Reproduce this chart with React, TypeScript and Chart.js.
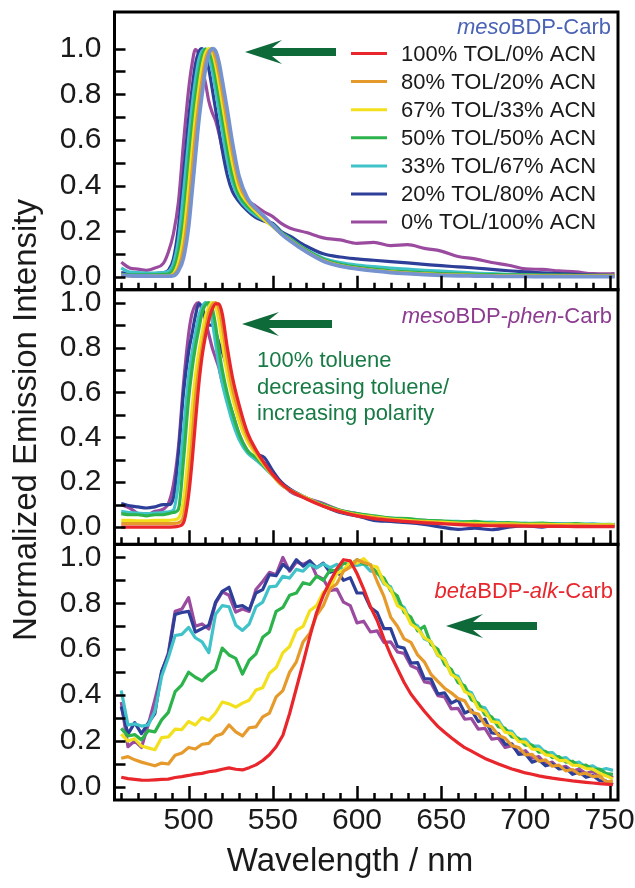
import React, { useEffect, useRef } from 'react';
import { Chart, registerables } from 'chart.js';

Chart.register(...registerables);

// ---------- labels / colours ----------
const SERIES_LABELS = [
  '100% TOL/0% ACN',
  '80% TOL/20% ACN',
  '67% TOL/33% ACN',
  '50% TOL/50% ACN',
  '33% TOL/67% ACN',
  '20% TOL/80% ACN',
  '0% TOL/100% ACN',
];
const SERIES_COLORS = ['#e8262b', '#e59a2b', '#f2e01c', '#2db34b', '#40c3c8', '#2d3f98', '#9b4b9f'];
const CARB_TOL100_COLOR = '#7593cf';

// ---------- ticks ----------
const Y_TICK_LABELS = [0, 0.2, 0.4, 0.6, 0.8, 1.0];
const Y_TICK_MARKS = [0, 0.1, 0.2, 0.3, 0.4, 0.5, 0.6, 0.7, 0.8, 0.9, 1.0];
const X_TICK_LABELS = [500, 550, 600, 650, 700, 750];
const X_TICK_MARKS = [460, 470, 480, 490, 500, 510, 520, 530, 540, 550, 560, 570, 580, 590, 600, 610, 620, 630, 640, 650, 660, 670, 680, 690, 700, 710, 720, 730, 740, 750];

// ---------- wavelengths ----------
const WL_MESO = [460, 465, 470, 475, 480, 485, 488, 491, 494, 497, 500, 502, 504, 506, 508, 510, 512, 514, 516, 518, 520, 523, 526, 530, 535, 540, 545, 550, 555, 560, 570, 580, 590, 600, 610, 620, 630, 640, 650, 660, 670, 680, 690, 700, 710, 720, 730, 740, 750, 753];
const WL_ALK = [460, 464, 468, 472, 476, 480, 484, 488, 492, 496, 500, 504, 508, 512, 516, 520, 524, 528, 532, 536, 540, 544, 548, 552, 556, 560, 564, 568, 572, 576, 580, 584, 588, 592, 596, 600, 604, 608, 612, 616, 620, 624, 628, 632, 636, 640, 644, 648, 652, 656, 660, 664, 668, 672, 676, 680, 684, 688, 692, 696, 700, 704, 708, 712, 716, 720, 724, 728, 732, 736, 740, 744, 748, 752];

// ---------- mesoBDP-Carb ----------
const carb100 = [0.008, 0.006, 0.005, 0.005, 0.004, 0.004, 0.004, 0.006, 0.028, 0.085, 0.22, 0.37, 0.525, 0.68, 0.80, 0.91, 0.975, 1.0, 0.99, 0.94, 0.86, 0.73, 0.59, 0.44, 0.345, 0.30, 0.265, 0.225, 0.19, 0.16, 0.11, 0.07, 0.048, 0.036, 0.027, 0.02, 0.015, 0.011, 0.008, 0.006, 0.005, 0.004, 0.003, 0.003, 0.002, 0.002, 0.002, 0.002, 0.002, 0.002];
const carb80 = [0.008, 0.006, 0.005, 0.005, 0.005, 0.005, 0.005, 0.01, 0.04, 0.125, 0.30, 0.46, 0.62, 0.755, 0.865, 0.95, 0.99, 0.995, 0.96, 0.895, 0.81, 0.675, 0.545, 0.41, 0.335, 0.295, 0.26, 0.225, 0.19, 0.162, 0.112, 0.072, 0.05, 0.038, 0.029, 0.022, 0.017, 0.013, 0.01, 0.008, 0.007, 0.006, 0.005, 0.005, 0.004, 0.004, 0.004, 0.004, 0.004, 0.004];
const carb67 = [0.008, 0.006, 0.006, 0.005, 0.005, 0.006, 0.006, 0.015, 0.065, 0.18, 0.39, 0.55, 0.70, 0.82, 0.92, 0.98, 1.0, 0.985, 0.93, 0.85, 0.76, 0.625, 0.50, 0.385, 0.325, 0.285, 0.25, 0.22, 0.19, 0.163, 0.113, 0.073, 0.051, 0.039, 0.03, 0.023, 0.018, 0.014, 0.011, 0.009, 0.008, 0.007, 0.006, 0.006, 0.005, 0.005, 0.005, 0.005, 0.005, 0.005];
const carb50 = [0.012, 0.01, 0.01, 0.01, 0.01, 0.012, 0.014, 0.035, 0.11, 0.26, 0.50, 0.655, 0.785, 0.89, 0.965, 0.998, 0.99, 0.95, 0.875, 0.79, 0.70, 0.565, 0.45, 0.36, 0.31, 0.28, 0.25, 0.225, 0.195, 0.168, 0.118, 0.078, 0.056, 0.044, 0.035, 0.028, 0.023, 0.019, 0.016, 0.014, 0.012, 0.011, 0.01, 0.01, 0.009, 0.009, 0.008, 0.008, 0.008, 0.008];
const carb33 = [0.04, 0.022, 0.02, 0.018, 0.018, 0.02, 0.025, 0.06, 0.165, 0.37, 0.60, 0.745, 0.86, 0.95, 0.99, 0.998, 0.97, 0.905, 0.82, 0.73, 0.64, 0.51, 0.415, 0.345, 0.30, 0.27, 0.25, 0.23, 0.195, 0.17, 0.12, 0.083, 0.064, 0.053, 0.046, 0.04, 0.035, 0.03, 0.026, 0.022, 0.018, 0.015, 0.012, 0.01, 0.008, 0.007, 0.005, 0.004, 0.003, 0.003];
const carb20 = [0.02, 0.015, 0.015, 0.015, 0.016, 0.02, 0.03, 0.08, 0.22, 0.45, 0.69, 0.82, 0.93, 0.985, 1.0, 0.97, 0.91, 0.825, 0.735, 0.645, 0.555, 0.445, 0.375, 0.33, 0.29, 0.26, 0.245, 0.235, 0.2, 0.18, 0.135, 0.102, 0.088, 0.08, 0.074, 0.068, 0.062, 0.056, 0.05, 0.045, 0.04, 0.034, 0.028, 0.023, 0.019, 0.015, 0.012, 0.009, 0.007, 0.006];
const carb0 = [0.065, 0.04, 0.035, 0.03, 0.04, 0.06, 0.11, 0.19, 0.33, 0.59, 0.82, 0.93, 0.995, 0.975, 0.91, 0.85, 0.77, 0.72, 0.685, 0.63, 0.565, 0.49, 0.44, 0.37, 0.335, 0.31, 0.285, 0.265, 0.235, 0.215, 0.195, 0.172, 0.163, 0.148, 0.152, 0.138, 0.142, 0.126, 0.114, 0.09, 0.08, 0.064, 0.052, 0.036, 0.034, 0.027, 0.023, 0.015, 0.014, 0.016];

// ---------- mesoBDP-phen-Carb ----------
const phen100 = [0.0, 0.0, 0.0, 0.0, 0.0, 0.0, 0.0, 0.001, 0.004, 0.02, 0.14, 0.285, 0.46, 0.63, 0.76, 0.85, 0.92, 0.97, 0.995, 0.995, 0.95, 0.80, 0.67, 0.545, 0.42, 0.345, 0.285, 0.235, 0.195, 0.165, 0.125, 0.093, 0.068, 0.05, 0.038, 0.03, 0.024, 0.019, 0.015, 0.011, 0.008, 0.006, 0.005, 0.004, 0.003, 0.003, 0.002, 0.002, 0.002, 0.002];
const phen80 = [0.015, 0.015, 0.015, 0.015, 0.015, 0.015, 0.015, 0.016, 0.02, 0.05, 0.22, 0.38, 0.57, 0.70, 0.80, 0.88, 0.955, 0.99, 1.0, 0.975, 0.90, 0.745, 0.62, 0.51, 0.40, 0.335, 0.28, 0.23, 0.19, 0.165, 0.128, 0.094, 0.07, 0.052, 0.042, 0.033, 0.026, 0.022, 0.017, 0.014, 0.012, 0.01, 0.01, 0.008, 0.008, 0.007, 0.007, 0.006, 0.006, 0.006];
const phen67 = [0.03, 0.03, 0.028, 0.028, 0.03, 0.03, 0.03, 0.032, 0.04, 0.12, 0.34, 0.52, 0.67, 0.775, 0.86, 0.94, 0.98, 1.0, 0.985, 0.92, 0.82, 0.68, 0.58, 0.47, 0.38, 0.325, 0.275, 0.23, 0.19, 0.165, 0.13, 0.095, 0.072, 0.055, 0.045, 0.036, 0.03, 0.025, 0.022, 0.018, 0.016, 0.014, 0.014, 0.012, 0.012, 0.011, 0.01, 0.01, 0.01, 0.01];
const phen50 = [0.06, 0.055, 0.055, 0.05, 0.055, 0.055, 0.06, 0.065, 0.08, 0.30, 0.57, 0.70, 0.80, 0.88, 0.955, 0.99, 1.0, 0.975, 0.90, 0.79, 0.70, 0.595, 0.51, 0.415, 0.34, 0.31, 0.27, 0.23, 0.19, 0.165, 0.128, 0.1, 0.075, 0.06, 0.05, 0.04, 0.038, 0.03, 0.028, 0.022, 0.025, 0.018, 0.02, 0.015, 0.018, 0.012, 0.015, 0.01, 0.012, 0.01];
const phen33 = [0.07, 0.065, 0.062, 0.06, 0.062, 0.065, 0.068, 0.075, 0.2, 0.43, 0.67, 0.775, 0.86, 0.94, 0.98, 1.0, 0.985, 0.92, 0.82, 0.72, 0.64, 0.55, 0.47, 0.39, 0.33, 0.30, 0.265, 0.23, 0.19, 0.165, 0.13, 0.098, 0.072, 0.058, 0.046, 0.04, 0.032, 0.03, 0.024, 0.026, 0.02, 0.022, 0.016, 0.018, 0.013, 0.015, 0.012, 0.014, 0.01, 0.012];
const phen20 = [0.105, 0.095, 0.09, 0.085, 0.09, 0.1, 0.1, 0.13, 0.33, 0.60, 0.78, 0.86, 0.94, 0.995, 0.98, 0.93, 0.9, 0.9, 0.87, 0.82, 0.78, 0.71, 0.64, 0.52, 0.40, 0.33, 0.31, 0.25, 0.2, 0.17, 0.13, 0.095, 0.065, 0.05, 0.03, 0.025, 0.02, 0.012, 0.0, -0.01, -0.005, -0.012, 0.0, 0.005, 0.0, 0.01, 0.003, 0.008, 0.005, 0.01];
const phen0 = [0.10, 0.085, 0.06, 0.055, 0.07, 0.08, 0.105, 0.19, 0.36, 0.64, 0.86, 0.95, 0.99, 1.0, 0.965, 0.92, 0.86, 0.80, 0.755, 0.71, 0.645, 0.575, 0.51, 0.415, 0.34, 0.30, 0.285, 0.235, 0.2, 0.16, 0.13, 0.105, 0.075, 0.06, 0.045, 0.036, 0.03, 0.03, 0.025, 0.02, 0.018, 0.02, 0.015, 0.016, 0.012, 0.014, 0.01, 0.012, 0.008, 0.012];

// ---------- betaBDP-alk-Carb ----------
const alk100 = [0.042, 0.036, 0.033, 0.03, 0.029, 0.031, 0.033, 0.034, 0.041, 0.045, 0.05, 0.056, 0.059, 0.066, 0.07, 0.077, 0.083, 0.077, 0.074, 0.084, 0.096, 0.115, 0.14, 0.175, 0.225, 0.32, 0.43, 0.54, 0.655, 0.76, 0.835, 0.895, 0.95, 0.99, 0.985, 0.93, 0.862, 0.785, 0.725, 0.645, 0.575, 0.515, 0.455, 0.405, 0.367, 0.33, 0.296, 0.264, 0.238, 0.214, 0.192, 0.171, 0.156, 0.14, 0.124, 0.112, 0.1, 0.089, 0.078, 0.07, 0.061, 0.055, 0.048, 0.043, 0.038, 0.034, 0.03, 0.026, 0.023, 0.02, 0.017, 0.014, 0.012, 0.01];
const alk80 = [0.125, 0.132, 0.118, 0.108, 0.1, 0.092, 0.104, 0.1, 0.138, 0.148, 0.172, 0.165, 0.186, 0.19, 0.222, 0.232, 0.27, 0.24, 0.222, 0.258, 0.262, 0.305, 0.322, 0.392, 0.42, 0.5, 0.545, 0.632, 0.67, 0.748, 0.79, 0.862, 0.885, 0.94, 0.958, 0.99, 0.978, 0.968, 0.895, 0.83, 0.74, 0.7, 0.645, 0.63, 0.575, 0.545, 0.49, 0.46, 0.43, 0.41, 0.385, 0.375, 0.325, 0.318, 0.27, 0.262, 0.225, 0.212, 0.18, 0.172, 0.14, 0.142, 0.112, 0.118, 0.09, 0.095, 0.07, 0.076, 0.055, 0.06, 0.045, 0.048, 0.022, 0.025];
const alk67 = [0.23, 0.2, 0.21, 0.178, 0.17, 0.162, 0.215, 0.218, 0.252, 0.25, 0.285, 0.27, 0.302, 0.29, 0.322, 0.37, 0.362, 0.348, 0.365, 0.378, 0.422, 0.432, 0.495, 0.52, 0.585, 0.612, 0.682, 0.7, 0.768, 0.79, 0.848, 0.868, 0.93, 0.945, 0.98, 0.975, 0.995, 0.965, 0.958, 0.89, 0.862, 0.79, 0.772, 0.71, 0.69, 0.65, 0.632, 0.575, 0.555, 0.49, 0.472, 0.415, 0.4, 0.342, 0.33, 0.285, 0.28, 0.238, 0.232, 0.198, 0.195, 0.165, 0.164, 0.14, 0.136, 0.115, 0.116, 0.095, 0.094, 0.08, 0.078, 0.06, 0.048, 0.035];
const alk50 = [0.255, 0.222, 0.228, 0.205, 0.245, 0.24, 0.292, 0.325, 0.415, 0.445, 0.5, 0.478, 0.462, 0.49, 0.512, 0.605, 0.575, 0.56, 0.492, 0.552, 0.58, 0.652, 0.675, 0.765, 0.782, 0.835, 0.845, 0.89, 0.882, 0.918, 0.9, 0.945, 0.942, 0.975, 0.968, 0.99, 0.972, 0.968, 0.93, 0.91, 0.855, 0.832, 0.76, 0.74, 0.68, 0.7, 0.62, 0.6, 0.535, 0.512, 0.455, 0.44, 0.38, 0.365, 0.315, 0.305, 0.262, 0.255, 0.218, 0.212, 0.182, 0.182, 0.152, 0.155, 0.128, 0.132, 0.108, 0.112, 0.09, 0.095, 0.075, 0.078, 0.058, 0.055];
const alk33 = [0.42, 0.27, 0.275, 0.265, 0.27, 0.33, 0.482, 0.565, 0.66, 0.665, 0.695, 0.65, 0.632, 0.585, 0.752, 0.79, 0.785, 0.705, 0.682, 0.71, 0.785, 0.805, 0.872, 0.875, 0.918, 0.91, 0.948, 0.94, 0.97, 0.955, 0.972, 0.955, 0.97, 0.945, 0.968, 0.965, 0.972, 0.94, 0.938, 0.885, 0.872, 0.8, 0.782, 0.718, 0.702, 0.645, 0.632, 0.572, 0.558, 0.492, 0.482, 0.422, 0.41, 0.352, 0.345, 0.295, 0.29, 0.245, 0.242, 0.205, 0.208, 0.178, 0.178, 0.148, 0.15, 0.122, 0.128, 0.102, 0.108, 0.085, 0.092, 0.072, 0.08, 0.072];
const alk20 = [0.35, 0.23, 0.28, 0.232, 0.278, 0.32, 0.505, 0.575, 0.752, 0.76, 0.765, 0.675, 0.69, 0.705, 0.805, 0.852, 0.87, 0.785, 0.79, 0.772, 0.845, 0.86, 0.925, 0.92, 0.97, 0.945, 0.99, 0.962, 0.985, 0.955, 0.975, 0.935, 0.945, 0.9, 0.912, 0.845, 0.845, 0.782, 0.76, 0.69, 0.69, 0.612, 0.605, 0.54, 0.542, 0.472, 0.47, 0.405, 0.41, 0.365, 0.38, 0.322, 0.335, 0.285, 0.295, 0.235, 0.232, 0.185, 0.188, 0.142, 0.145, 0.108, 0.118, 0.092, 0.1, 0.078, 0.082, 0.055, 0.065, 0.042, 0.05, 0.028, 0.025, 0.01];
const alk0 = [0.37, 0.175, 0.2, 0.172, 0.27, 0.38, 0.5, 0.585, 0.765, 0.775, 0.825, 0.7, 0.71, 0.688, 0.8, 0.85, 0.835, 0.762, 0.775, 0.765, 0.86, 0.895, 0.935, 0.925, 1.0, 0.94, 0.98, 0.97, 0.985, 0.92, 0.905, 0.855, 0.862, 0.805, 0.79, 0.715, 0.722, 0.675, 0.68, 0.63, 0.632, 0.588, 0.582, 0.528, 0.515, 0.458, 0.452, 0.398, 0.392, 0.34, 0.342, 0.295, 0.298, 0.252, 0.255, 0.208, 0.212, 0.172, 0.18, 0.148, 0.158, 0.125, 0.132, 0.1, 0.108, 0.082, 0.09, 0.068, 0.078, 0.058, 0.068, 0.048, 0.058, 0.04];

// ---------- styling ----------
const FONT = '"Liberation Sans", Arial, Helvetica, sans-serif';
const TEXT = '#1a1a1a';
const ARROW_GREEN = '#0f6a3a';

const PANELS = [
  { axis: 'yA', wl: WL_MESO, series: [carb100, carb80, carb67, carb50, carb33, carb20, carb0], colors: [CARB_TOL100_COLOR, ...SERIES_COLORS.slice(1)], smooth: true },
  { axis: 'yB', wl: WL_MESO, series: [phen100, phen80, phen67, phen50, phen33, phen20, phen0], colors: SERIES_COLORS, smooth: true },
  { axis: 'yC', wl: WL_ALK, series: [alk100, alk80, alk67, alk50, alk33, alk20, alk0], colors: SERIES_COLORS, smooth: false },
];

function drawRich(ctx: CanvasRenderingContext2D, parts: [string, boolean][], xRight: number, yMid: number, size: number, color: string) {
  const fN = `${size}px ${FONT}`;
  const fI = `italic ${size}px ${FONT}`;
  let total = 0;
  for (const [t, it] of parts) { ctx.font = it ? fI : fN; total += ctx.measureText(t).width; }
  let x = xRight - total;
  ctx.fillStyle = color;
  ctx.textBaseline = 'middle';
  ctx.textAlign = 'left';
  for (const [t, it] of parts) { ctx.font = it ? fI : fN; ctx.fillText(t, x, yMid); x += ctx.measureText(t).width; }
}

function drawArrow(ctx: CanvasRenderingContext2D, tipX: number, tailX: number, y: number) {
  ctx.fillStyle = ARROW_GREEN;
  ctx.beginPath();
  ctx.moveTo(tipX, y);
  ctx.lineTo(tipX + 37, y - 12);
  ctx.lineTo(tipX + 27, y - 4);
  ctx.lineTo(tailX, y - 4);
  ctx.lineTo(tailX, y + 4);
  ctx.lineTo(tipX + 27, y + 4);
  ctx.lineTo(tipX + 37, y + 12);
  ctx.closePath();
  ctx.fill();
}

const framePlugin = {
  id: 'framesAndNotes',
  afterDatasetsDraw(chart: any) {
    const { ctx, scales } = chart;
    const x = scales.x;
    ctx.save();
    ctx.strokeStyle = '#000';
    ctx.lineCap = 'butt';
    for (const id of ['yA', 'yB', 'yC']) {
      const s = scales[id];
      ctx.lineWidth = 2.5;
      ctx.beginPath();
      for (const v of Y_TICK_MARKS) {
        const py = Math.round(s.getPixelForValue(v)) + 0.5;
        ctx.moveTo(x.left, py);
        ctx.lineTo(x.left + 11, py);
      }
      for (const w of X_TICK_MARKS) {
        const px = Math.round(x.getPixelForValue(w)) + 0.5;
        const len = w % 50 === 0 ? 14 : 7;
        ctx.moveTo(px, s.bottom);
        ctx.lineTo(px, s.bottom - len);
      }
      ctx.stroke();
      ctx.lineWidth = 3;
      ctx.strokeRect(x.left, s.top, x.right - x.left, s.bottom - s.top);
    }

    // legend in top panel
    const legX0 = 351, legX1 = 387, legTextX = 401, legY0 = 53.5, legStep = 28.1;
    SERIES_LABELS.forEach((lab, i) => {
      const y = legY0 + i * legStep;
      ctx.strokeStyle = SERIES_COLORS[i];
      ctx.lineWidth = 3;
      ctx.beginPath();
      ctx.moveTo(legX0, y);
      ctx.lineTo(legX1, y);
      ctx.stroke();
      ctx.fillStyle = TEXT;
      ctx.font = `22px ${FONT}`;
      ctx.textAlign = 'left';
      ctx.textBaseline = 'middle';
      ctx.fillText(lab, legTextX, y + 1);
    });

    drawRich(ctx, [['meso', true], ['BDP-Carb', false]], 611, 28, 22, '#4a63b5');
    drawRich(ctx, [['meso', true], ['BDP-', false], ['phen', true], ['-Carb', false]], 612, 317, 22, '#8c3b90');
    drawRich(ctx, [['beta', true], ['BDP-', false], ['alk', true], ['-Carb', false]], 613, 592, 22, '#e8262b');

    ctx.fillStyle = '#187b45';
    ctx.font = `22px ${FONT}`;
    ctx.textAlign = 'left';
    ctx.textBaseline = 'middle';
    ctx.fillText('100% toluene', 257, 361);
    ctx.fillText('decreasing toluene/', 257, 388);
    ctx.fillText('increasing polarity', 257, 414);

    drawArrow(ctx, 245, 336, 52);
    drawArrow(ctx, 242, 332, 324);
    drawArrow(ctx, 446, 537, 626);

    // axis titles
    ctx.fillStyle = TEXT;
    ctx.font = `33px ${FONT}`;
    ctx.textAlign = 'center';
    ctx.textBaseline = 'middle';
    ctx.fillText('Wavelength / nm', 350, 862);
    ctx.save();
    ctx.translate(27, 420);
    ctx.rotate(-Math.PI / 2);
    ctx.fillText('Normalized Emission Intensity', 0, 0);
    ctx.restore();
    ctx.restore();
  },
};

function yScale(min: number, max: number, weight: number) {
  return {
    type: 'linear',
    position: 'left',
    stack: 'panels',
    stackWeight: weight,
    min,
    max,
    offset: false,
    grid: { display: false, drawTicks: false },
    border: { display: false },
    ticks: {
      autoSkip: false,
      padding: 13,
      color: TEXT,
      font: { family: FONT, size: 30 },
      callback: (v: any) => Number(v).toFixed(1),
    },
    afterBuildTicks: (s: any) => { s.ticks = Y_TICK_LABELS.map((v) => ({ value: v })); },
    afterFit: (s: any) => { s.width = 114.5; s.paddingTop = 0; s.paddingBottom = 0; },
  };
}

export default function App() {
  const ref = useRef<HTMLCanvasElement>(null);
  useEffect(() => {
    const datasets = PANELS.flatMap((p) =>
      p.series.map((vals, i) => ({
        label: SERIES_LABELS[i],
        data: p.wl.map((w, j) => ({ x: w, y: vals[j] })),
        xAxisID: 'x',
        yAxisID: p.axis,
        borderColor: p.colors[i],
        backgroundColor: p.colors[i],
        borderWidth: p.axis === 'yA' && i === 0 ? 3.8 : 3.2,
        pointRadius: 0,
        fill: false,
        tension: 0,
        cubicInterpolationMode: p.smooth ? 'monotone' : 'default',
        borderJoinStyle: 'round',
      }))
    );
    const chart = new Chart(ref.current as HTMLCanvasElement, {
      type: 'line',
      data: { datasets } as any,
      options: {
        animation: false,
        responsive: false,
        devicePixelRatio: 1,
        layout: { padding: { top: 12, right: 17, left: 0, bottom: 0 } },
        plugins: { legend: { display: false }, tooltip: { enabled: false }, title: { display: false } },
        scales: {
          x: {
            type: 'linear',
            min: 456,
            max: 755,
            grid: { display: false, drawTicks: false },
            border: { display: false },
            ticks: {
              autoSkip: false,
              maxRotation: 0,
              padding: 3,
              color: TEXT,
              font: { family: FONT, size: 30 },
              callback: (v: any) => String(v),
            },
            afterBuildTicks: (s: any) => { s.ticks = X_TICK_LABELS.map((v) => ({ value: v })); },
            afterFit: (s: any) => { s.height = 88; s.paddingLeft = 0; s.paddingRight = 0; },
          },
          yC: yScale(-0.057, 1.057, 255),
          yB: yScale(-0.077, 1.058, 254),
          yA: yScale(-0.055, 1.16, 277),
        } as any,
      },
      plugins: [framePlugin],
    });
    return () => chart.destroy();
  }, []);
  return (
    <div style={{ position: 'absolute', left: 0, top: 0, width: 635, height: 888, background: '#fff' }}>
      <canvas ref={ref} width={635} height={888} style={{ display: 'block', width: 635, height: 888 }} />
    </div>
  );
}
